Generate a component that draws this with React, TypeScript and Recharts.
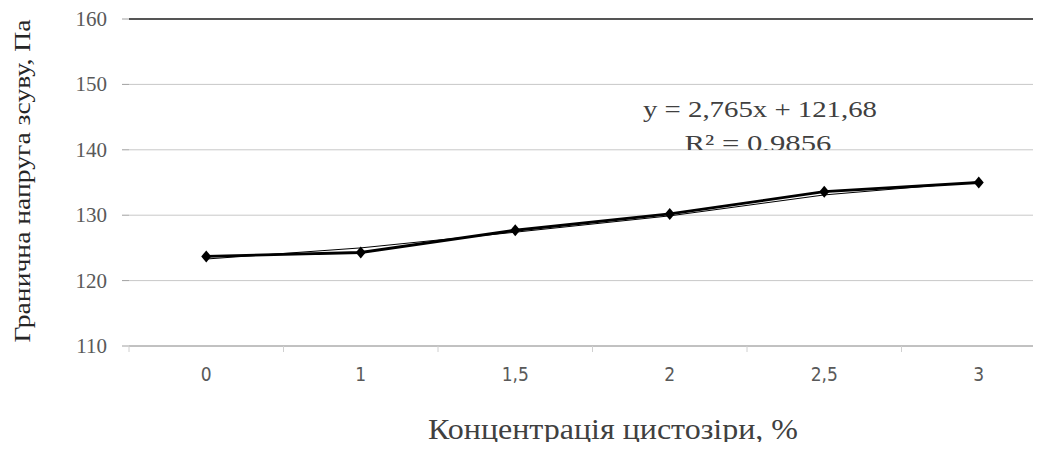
import React from "react";
import {
  ComposedChart,
  Line,
  XAxis,
  YAxis,
  CartesianGrid,
  ReferenceLine,
} from "recharts";

// concentration of cystoseira, %
const categories = ["0", "1", "1,5", "2", "2,5", "3"];
// shear yield stress, Pa
const measured = [123.7, 124.3, 127.7, 130.2, 133.6, 135.0];
// linear trendline as drawn in the figure
const trend = [123.3, 125.0, 127.4, 129.9, 133.1, 135.1];
const yTicks = [110, 120, 130, 140, 150, 160];

const data = categories.map((c, i) => ({ c, measured: measured[i], trend: trend[i] }));

const serif = "Liberation Serif";
const narrow = '"DejaVu Sans Condensed", sans-serif';

const Diamond = (props: any) => {
  const { cx, cy } = props;
  if (cx == null || cy == null) return null;
  return (
    <path
      d={`M${cx},${cy - 6}L${cx + 5},${cy}L${cx},${cy + 6}L${cx - 5},${cy}Z`}
      fill="#000"
    />
  );
};

const XTick = (props: any) => {
  const { x, y, payload, index } = props;
  const half = payload.offset || 0;
  return (
    <g>
      <line x1={x - half} x2={x - half} y1={346} y2={352} stroke="#d0d0d0" />
      {index === categories.length - 1 && (
        <line x1={x + half} x2={x + half} y1={346} y2={352} stroke="#d0d0d0" />
      )}
      <text
        x={x}
        y={y}
        dy={27}
        textAnchor="middle"
        style={{ fontFamily: narrow }}
        fontSize={19}
        fill="#595959"
      >
        {payload.value}
      </text>
    </g>
  );
};

const YTick = (props: any) => {
  const { x, y, payload } = props;
  return (
    <text
      x={x}
      y={y}
      dy={7}
      textAnchor="end"
      style={{ fontFamily: serif }}
      fontSize={21}
      fill="#595959"
    >
      {payload.value}
    </text>
  );
};

export default function App() {
  return (
    <div
      style={{
        position: "relative",
        margin: -8,
        width: 1041,
        height: 450,
        overflow: "hidden",
        background: "#fff",
      }}
    >
      <ComposedChart
        width={1056}
        height={450}
        data={data}
        margin={{ top: 19, right: 0, left: 0, bottom: 0 }}
      >
        <CartesianGrid horizontal vertical={false} stroke="#c8c8c8" />
        <XAxis
          dataKey="c"
          scale="band"
          height={104}
          tickLine={false}
          axisLine={{ stroke: "#a0a0a0" }}
          tick={<XTick />}
          interval={0}
        />
        <YAxis
          width={129}
          domain={[110, 160]}
          ticks={yTicks}
          tickSize={7}
          tickMargin={15}
          axisLine={false}
          tickLine={{ stroke: "#a0a0a0" }}
          tick={<YTick />}
        />
        <ReferenceLine y={160} stroke="#555" strokeWidth={1.8} />
        <Line
          dataKey="trend"
          stroke="#000"
          strokeWidth={1}
          dot={false}
          isAnimationActive={false}
        />
        <Line
          dataKey="measured"
          stroke="#000"
          strokeWidth={2.8}
          dot={<Diamond />}
          isAnimationActive={false}
        />
      </ComposedChart>
      <svg
        width={1041}
        height={450}
        style={{ position: "absolute", left: 0, top: 0, pointerEvents: "none", fontFamily: serif }}
      >
        <defs>
          <clipPath id="eqClip">
            <rect x={0} y={0} width={1041} height={150} />
          </clipPath>
        </defs>
        <text
          transform="translate(30,181) rotate(-90)"
          textAnchor="middle"
          fontSize={24}
          fill="#262626"
          textLength={323}
          lengthAdjust="spacingAndGlyphs"
        >
          Гранична напруга зсуву, Па
        </text>
        <text
          x={760}
          y={117}
          textAnchor="middle"
          fontSize={23}
          fill="#404040"
          textLength={234}
          lengthAdjust="spacingAndGlyphs"
        >
          y = 2,765x + 121,68
        </text>
        <text
          x={758}
          y={151}
          textAnchor="middle"
          fontSize={23}
          fill="#404040"
          textLength={147}
          lengthAdjust="spacingAndGlyphs"
          clipPath="url(#eqClip)"
        >
          R² = 0,9856
        </text>
        <text
          x={613}
          y={439}
          textAnchor="middle"
          fontSize={29}
          fill="#404040"
          textLength={370}
          lengthAdjust="spacingAndGlyphs"
        >
          Концентрація цистозіри, %
        </text>
      </svg>
    </div>
  );
}
